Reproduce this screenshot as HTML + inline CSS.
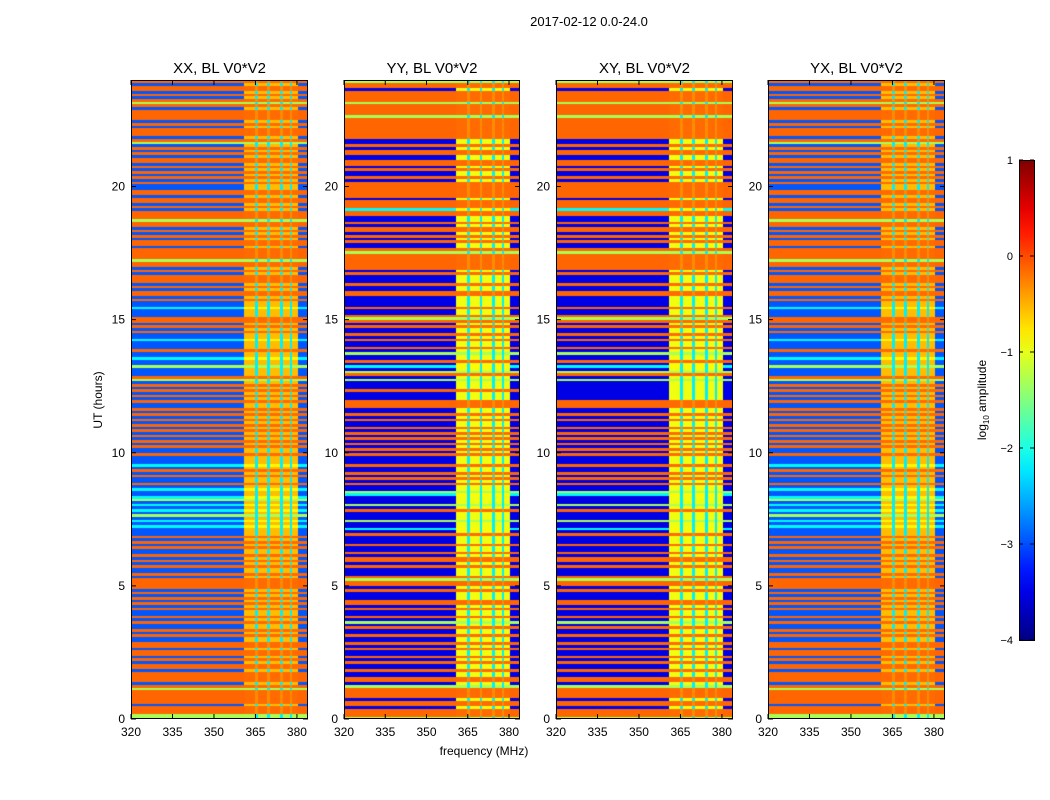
<!DOCTYPE html>
<html><head><meta charset="utf-8">
<style>
body{margin:0;background:#fff;width:1050px;height:800px;position:relative;overflow:hidden;font-family:"Liberation Sans",sans-serif;}
canvas{position:absolute;}
svg{position:absolute;left:0;top:0;}
</style></head>
<body>
<canvas id="c0" width="177" height="639" style="left:131px;top:80px"></canvas>
<canvas id="c1" width="176" height="639" style="left:344px;top:80px"></canvas>
<canvas id="c2" width="177" height="639" style="left:556px;top:80px"></canvas>
<canvas id="c3" width="177" height="639" style="left:768px;top:80px"></canvas>
<svg id="s" width="1050" height="800"></svg>
<script>
// per-hour row codes (10 rows/hour, hour 0 first): o=orange, b=blue/cyan mix, d=deep blue, g=green, c=cyan
const titles = ["XX, BL V0*V2","YY, BL V0*V2","XY, BL V0*V2","YX, BL V0*V2"];
const rowsXX = ["ggoooboooo","ogoboooobo","obobooboob","bobobbobob","bobobobobo","ooobobbobo","bobbobobob","bbcbcbgbcb","cbgcbbcbob","bobobcbbbo","bbobobobob","obobobobbo","bobobobgob","bbgbbcbbob","bbcbbobobo","obbbcbbobo","obobooobob","oogooooboo","boboboogoo","obobooboob","bobobobobo","obobobgobo","ooboboooob","ogoboboobo"];
const rowsYY = ["gooodoodoo","oogdooddod","dododdodod","doddodgdod","dodoodddod","oogodddodo","ododdodddo","dcddgdddod","gdddcgddod","ododdodddo","dododododo","ddododdooo","dddodddgdo","gdcdoddgdo","ddododdodo","goddoddddo","oddodddodo","ooooogoddo","dodoododdo","ocooodoooo","oododdodoo","ddoododdoo","oooooogooo","ogoooodoog"];
const rowsXY = ["gooodoodoo","oogdooddod","dododdodod","doddodgdod","dodoodddod","oogodddodo","ododdodddo","dcddgdddod","gdddcgddod","ododdodddo","dododododo","ddododdooo","dddddddgdo","gdcdoddgdo","ddododdodo","goddoddddo","oddodddodo","ooooogoddo","dodoododdo","ocooodoooo","oododdodoo","ddoododdoo","oooooogooo","ogoooodoog"];
const rowsYX = ["ggoooboooo","ogoboooobo","obobooboob","bobobbobob","bobobobobo","ooobobbobo","bobbobobob","bbcbcbgbcb","cbgcbbcbob","bobobcbbbo","bbobobobob","obobobobbo","bobobobgob","bbgbbcbbob","bbcbbobobo","obbbcbbobo","obobooobob","oogooooboo","boboboogoo","obobooboob","bobobobobo","obobobgobo","ooboboooob","ogoboboobo"];
const codeValue = {o:-0.12,b:-2.95,d:-3.5,g:-1.3,c:-2.15};
const bandValue = {o:-0.15,b:-0.55,d:-0.95,g:-1.3,c:-0.85};
const bandRange = [360.8,380.5];
const stripeFreqs = [365.5,370,374.5,378];
const xTicks = [320,335,350,365,380];
const yTicks = [0,5,10,15,20];
const cbTicks = [1,0,-1,-2,-3,-4];
const fMin=320,fMax=384,tMin=0,tMax=24,vMin=-4,vMax=1;
const panelX=[131,344,556,768],panelW=[177,176,177,177],panelY=80,panelH=639;

function jet(x){x=Math.max(0,Math.min(1,x));
 const cl=v=>Math.max(0,Math.min(1,v));
 const r=cl(1.5-Math.abs(4*x-3)),g=cl(1.5-Math.abs(4*x-2)),b=cl(1.5-Math.abs(4*x-1));
 return `rgb(${Math.round(r*255)},${Math.round(g*255)},${Math.round(b*255)})`;}
function norm(v){return (v-vMin)/(vMax-vMin);}

const allRows=[rowsXX,rowsYY,rowsXY,rowsYX];
allRows.forEach((rows,p)=>{
 const cv=document.getElementById('c'+p),ctx=cv.getContext('2d');
 const W=panelW[p];
 const codes=rows.join('').split('');
 const nR=codes.length, df=0.5, nC=(fMax-fMin)/df;
 const xs=f=>(f-fMin)/(fMax-fMin)*W;
 const ys=t=>panelH-(t-tMin)/(tMax-tMin)*panelH;
 codes.forEach((c,i)=>{
  const t0=i*(tMax-tMin)/nR, t1=(i+1)*(tMax-tMin)/nR;
  for(let j=0;j<nC;j++){
   const f0=fMin+j*df,f1=f0+df,fc=f0+df/2;
   let v=codeValue[c];
   if(fc>=bandRange[0]&&fc<=bandRange[1]){
     v=bandValue[c];
     if(stripeFreqs.some(s=>Math.abs(s-fc)<0.3)) v=(c==='o')?-0.3:-2.2;
   }
   ctx.fillStyle=jet(norm(v));
   const x0=xs(f0),y0=ys(t1);
   ctx.fillRect(Math.floor(x0),Math.floor(y0),Math.ceil(xs(f1))-Math.floor(x0),Math.ceil(ys(t0))-Math.floor(y0));
  }
 });
});

const NS='http://www.w3.org/2000/svg',svg=document.getElementById('s');
function el(tag,attrs,txt){const e=document.createElementNS(NS,tag);for(const k in attrs)e.setAttribute(k,attrs[k]);if(txt!==undefined)e.textContent=txt;svg.appendChild(e);return e;}
panelX.forEach((x0,p)=>{
 const W=panelW[p];
 const fr=el('rect',{x:x0+0.5,y:panelY+0.5,width:W-1,height:panelH-1,fill:'none',stroke:'#000','stroke-width':1});
 
 
 const t=el('text',{x:x0+W/2,y:73,'text-anchor':'middle','font-size':15},titles[p]);
 
 
 xTicks.forEach(f=>{
  const x=x0+(f-fMin)/(fMax-fMin)*W;
  el('line',{x1:x,x2:x,y1:panelY,y2:panelY+5,stroke:'#000'});
  el('line',{x1:x,x2:x,y1:panelY+panelH,y2:panelY+panelH-5,stroke:'#000'});
  const l=el('text',{x:x,y:736,'text-anchor':'middle','font-size':12},String(f));
  
  
 });
 yTicks.forEach(tv=>{
  const y=panelY+panelH-(tv-tMin)/(tMax-tMin)*panelH;
  el('line',{x1:x0,x2:x0+5,y1:y,y2:y,stroke:'#000'});
  el('line',{x1:x0+W,x2:x0+W-5,y1:y,y2:y,stroke:'#000'});
  const l=el('text',{x:x0-6,y:y+4,'text-anchor':'end','font-size':12},String(tv));
  
  
 });
});
const st=el('text',{x:589,y:26,'text-anchor':'middle','font-size':13},'2017-02-12 0.0-24.0');


const xl=el('text',{x:484,y:755,'text-anchor':'middle','font-size':12},'frequency (MHz)');


const yl=el('text',{x:0,y:0,'text-anchor':'middle','font-size':12,transform:'translate(102,400) rotate(-90)'},'UT (hours)');


// colorbar
const defs=el('defs',{});
const grad=document.createElementNS(NS,'linearGradient');
grad.setAttribute('id','jetg');grad.setAttribute('x1','0');grad.setAttribute('y1','1');grad.setAttribute('x2','0');grad.setAttribute('y2','0');
defs.appendChild(grad);
for(let i=0;i<=20;i++){const s=document.createElementNS(NS,'stop');s.setAttribute('offset',i/20);s.setAttribute('stop-color',jet(i/20));grad.appendChild(s);}
const cbY0=160,cbY1=640,cbX=1019,cbW=15;
const cb=el('rect',{x:cbX+0.5,y:cbY0+0.5,width:cbW,height:cbY1-cbY0,fill:'url(#jetg)',stroke:'#000','stroke-width':1});


cbTicks.forEach(v=>{
 const y=cbY1-(v-vMin)/(vMax-vMin)*(cbY1-cbY0);
 el('line',{x1:cbX,x2:cbX+4,y1:y,y2:y,stroke:'#000'});
 el('line',{x1:cbX+cbW,x2:cbX+cbW-4,y1:y,y2:y,stroke:'#000'});
 const l=el('text',{x:1013,y:y+4,'text-anchor':'end','font-size':11},(v<0?'\u2212':'')+Math.abs(v));
 
 
});
const cl=el('text',{x:0,y:0,'text-anchor':'middle','font-size':12,transform:'translate(986,400) rotate(-90)'});


cl.innerHTML='log<tspan font-size="8" dy="3">10</tspan><tspan dy="-3"> amplitude</tspan>';
</script>
</body></html>
